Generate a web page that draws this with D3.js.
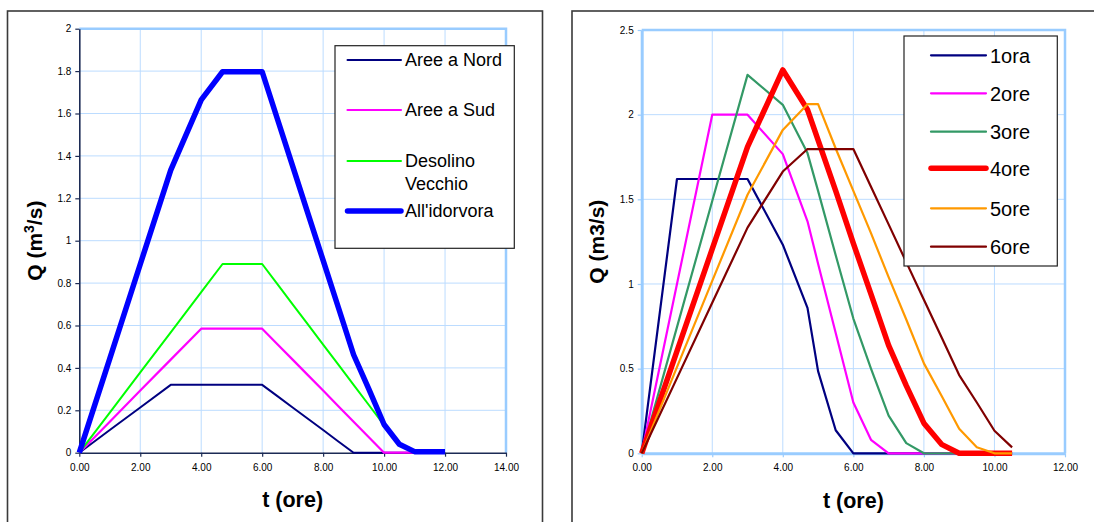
<!DOCTYPE html>
<html>
<head>
<meta charset="utf-8">
<script src="https://cdn.jsdelivr.net/npm/d3@7"></script>
<style>
  html, body { margin: 0; padding: 0; background: #fff; }
  svg { display: block; font-family: "Liberation Sans", Arial, sans-serif; }
</style>
</head>
<body>
<svg id="chart" width="1094" height="522"></svg>
<script>
// ---------- Left chart data ----------
const hoursLeft = [0, 1, 2, 3, 4, 4.7, 5, 5.5, 6, 6.5, 7, 7.5, 8, 8.5, 9, 9.5, 10, 10.5, 11, 11.5, 12];
const areeNord   = [0, 0.107, 0.213, 0.32, 0.32, 0.32, 0.32, 0.32, 0.32, 0.267, 0.213, 0.16, 0.107, 0.053, 0, 0, 0, 0, 0, 0, 0];
const areeSud    = [0, 0.146, 0.293, 0.439, 0.585, 0.585, 0.585, 0.585, 0.585, 0.512, 0.439, 0.366, 0.293, 0.219, 0.146, 0.073, 0, 0, 0, 0, 0];
const desolino   = [0, 0.189, 0.379, 0.568, 0.757, 0.89, 0.89, 0.89, 0.89, 0.795, 0.70, 0.605, 0.51, 0.415, 0.32, 0.225, 0.13, 0.04, 0.005, 0, 0];
const idorvora   = [0, 0.444, 0.889, 1.333, 1.664, 1.797, 1.797, 1.797, 1.797, 1.574, 1.352, 1.129, 0.907, 0.685, 0.462, 0.30, 0.133, 0.04, 0.005, 0.005, 0.005];
const leftNames  = ["Aree a Nord", "Aree a Sud", "Desolino|Vecchio", "All'idorvora"];
const leftColors = ["#000080", "#FF00FF", "#00FF00", "#0000FF"];
const leftWidths = [2, 2.2, 2, 5.5];
const leftXTicks = [0, 2, 4, 6, 8, 10, 12, 14];
const leftYTicks = [0, 0.2, 0.4, 0.6, 0.8, 1, 1.2, 1.4, 1.6, 1.8, 2];

// ---------- Right chart data ----------
const hoursRight = [0, 1, 2, 3, 4, 4.7, 5, 5.5, 6, 6.5, 7, 7.5, 8, 8.5, 9, 9.5, 10, 10.5];
const ora1 = [0, 1.62, 1.62, 1.62, 1.232, 0.859, 0.485, 0.136, 0, 0, 0, 0, 0, 0, 0, 0, 0, 0];
const ore2 = [0, 1.0, 2.0, 2.0, 1.767, 1.37, 1.12, 0.71, 0.30, 0.08, 0, 0, 0, 0, 0, 0, 0, 0];
const ore3 = [0, 0.745, 1.49, 2.235, 2.058, 1.773, 1.55, 1.17, 0.796, 0.50, 0.222, 0.06, 0, 0, 0, 0, 0, 0];
const ore4 = [0, 0.603, 1.207, 1.81, 2.264, 2.03, 1.85, 1.55, 1.24, 0.94, 0.638, 0.40, 0.178, 0.053, 0, 0, 0, 0];
const ore5 = [0, 0.509, 1.018, 1.527, 1.91, 2.062, 2.062, 1.80, 1.55, 1.30, 1.04, 0.79, 0.531, 0.34, 0.145, 0.036, 0, 0];
const ore6 = [0, 0.444, 0.889, 1.333, 1.664, 1.797, 1.797, 1.797, 1.797, 1.574, 1.352, 1.129, 0.907, 0.685, 0.462, 0.30, 0.133, 0.035];
const rightNames  = ["1ora", "2ore", "3ore", "4ore", "5ore", "6ore"];
const rightColors = ["#000080", "#FF00FF", "#339966", "#FF0000", "#FF9900", "#800000"];
const rightWidths = [2.2, 2.2, 2.2, 5.5, 2.2, 2.2];
const rightXTicks = [0, 2, 4, 6, 8, 10, 12];
const rightYTicks = [0, 0.5, 1, 1.5, 2, 2.5];

const svg = d3.select("#chart");
const GRID = "#BCDCFF";
const FRAME = "#99CCFF";
const FONT = "'Liberation Sans', Arial, sans-serif";
const numFmt = d => String(+d.toFixed(2));
const xFmt = d3.format(".2f");

function drawChart(opt) {
  const g = svg.append("g");
  const x = d3.scaleLinear().domain(opt.xDomain).range(opt.xRange);
  const y = d3.scaleLinear().domain(opt.yDomain).range(opt.yRange);
  const [x0, x1] = opt.xRange, [y0, y1] = opt.yRange;

  // panel border
  g.append("rect").attr("x", opt.panel[0]).attr("y", opt.panel[1])
    .attr("width", opt.panel[2]).attr("height", opt.panel[3])
    .attr("fill", "#fff").attr("stroke", "#3a3a3a").attr("stroke-width", 1.6);

  // grid
  g.append("g").selectAll("line").data(opt.xTicks.filter(d => d > opt.xDomain[0] && d < opt.xDomain[1]))
    .join("line").attr("x1", d => x(d)).attr("x2", d => x(d)).attr("y1", y0).attr("y2", y1)
    .attr("stroke", GRID).attr("stroke-width", 1);
  g.append("g").selectAll("line").data(opt.yTicks.filter(d => d > opt.yDomain[0] && d < opt.yDomain[1]))
    .join("line").attr("y1", d => y(d)).attr("y2", d => y(d)).attr("x1", x0).attr("x2", x1)
    .attr("stroke", GRID).attr("stroke-width", 1);

  // plot frame (top/right light blue)
  g.append("path").attr("d", `M${x0},${y1}H${x1}V${y0}`)
    .attr("fill", "none").attr("stroke", FRAME).attr("stroke-width", 2.5);

  // axes
  const xAxis = d3.axisBottom(x).tickValues(opt.xTicks).tickFormat(xFmt).tickSize(4).tickSizeOuter(0);
  const yAxis = d3.axisLeft(y).tickValues(opt.yTicks).tickFormat(numFmt).tickSize(4).tickSizeOuter(0);
  const gx = g.append("g").attr("transform", `translate(0,${y0})`).call(xAxis);
  const gy = g.append("g").attr("transform", `translate(${x0},0)`).call(yAxis);
  [gx, gy].forEach(a => {
    a.select(".domain").attr("stroke", opt.axisColor).attr("stroke-width", opt.axisWidth);
    a.selectAll(".tick line").attr("stroke", opt.tickColor).attr("stroke-width", 1.2);
    a.selectAll(".tick text").attr("fill", "#000").style("font-family", FONT).style("font-size", "10px");
  });
  gx.selectAll(".tick text").attr("dy", "0").attr("y", 18);
  gy.selectAll(".tick text").attr("x", -8);

  // series
  const line = d3.line().x(d => x(d[0])).y(d => y(d[1]));
  opt.series.forEach((s, i) => {
    const pts = opt.hours.map((h, k) => [h, s[k]]);
    g.append("path").datum(pts).attr("d", line)
      .attr("fill", "none").attr("stroke", opt.colors[i]).attr("stroke-width", opt.widths[i])
      .attr("stroke-linejoin", "round").attr("stroke-linecap", "butt");
  });

  // axis titles
  g.append("text").attr("x", (x0 + x1) / 2).attr("y", opt.xTitleY).attr("text-anchor", "middle")
    .style("font-family", FONT).style("font-size", "21.5px").style("font-weight", "bold").text("t (ore)");
  const yt = g.append("text").attr("transform", `translate(${opt.yTitleX},${(y0 + y1) / 2}) rotate(-90)`)
    .attr("text-anchor", "middle")
    .style("font-family", FONT).style("font-size", "21px").style("font-weight", "bold");
  opt.yTitle(yt);

  // legend
  const L = opt.legend;
  g.append("rect").attr("x", L.box[0]).attr("y", L.box[1]).attr("width", L.box[2]).attr("height", L.box[3])
    .attr("fill", "#fff").attr("stroke", "#222").attr("stroke-width", 1.2);
  opt.names.forEach((n, i) => {
    const cy = L.rows[i];
    g.append("line").attr("x1", L.lx1).attr("x2", L.lx2).attr("y1", cy).attr("y2", cy)
      .attr("stroke", opt.colors[i]).attr("stroke-width", opt.widths[i]).attr("stroke-linecap", "round");
    const parts = n.split("|");
    parts.forEach((p, j) => {
      g.append("text").attr("x", L.tx).attr("y", cy + L.fs * 0.36 + j * L.lineGap)
        .style("font-family", FONT).style("font-size", L.fs + "px").text(p);
    });
  });
}

drawChart({
  panel: [7.5, 11, 535, 530],
  xDomain: [0, 14], xRange: [79.3, 506],
  yDomain: [0, 2], yRange: [452.7, 28.7],
  xTicks: leftXTicks, yTicks: leftYTicks,
  axisColor: "#1c2b55", axisWidth: 1.6, tickColor: "#1c2b55",
  hours: hoursLeft, series: [areeNord, areeSud, desolino, idorvora],
  names: leftNames, colors: leftColors, widths: leftWidths,
  xTitleY: 507, yTitleX: 42,
  yTitle: t => { t.append("tspan").text("Q (m"); t.append("tspan").attr("dy", -8).style("font-size", "14px").text("3"); t.append("tspan").attr("dy", 8).text("/s)"); },
  legend: { box: [335, 45.7, 179.3, 202.6], lx1: 347.5, lx2: 401, tx: 405, fs: 18, lineGap: 22.5,
            rows: [60, 110, 161, 211] }
});

drawChart({
  panel: [572, 11, 540, 530],
  xDomain: [0, 12], xRange: [641.7, 1065],
  yDomain: [0, 2.5], yRange: [453.3, 30],
  xTicks: rightXTicks, yTicks: rightYTicks,
  axisColor: FRAME, axisWidth: 3, tickColor: FRAME,
  hours: hoursRight, series: [ora1, ore2, ore3, ore4, ore5, ore6],
  names: rightNames, colors: rightColors, widths: rightWidths,
  xTitleY: 508, yTitleX: 604,
  yTitle: t => t.text("Q (m3/s)"),
  legend: { box: [904, 36, 153.3, 230], lx1: 931, lx2: 986, tx: 990, fs: 20, lineGap: 0,
            rows: [55.3, 93.3, 131.7, 168.3, 208.3, 246.7] }
});
</script>
</body>
</html>
